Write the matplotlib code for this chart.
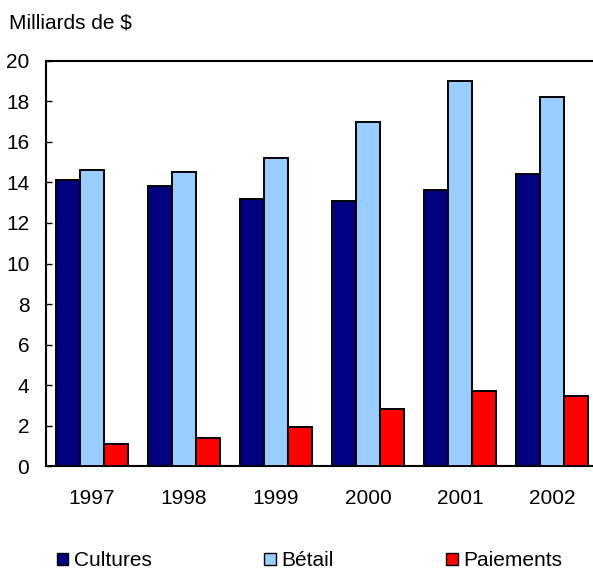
import matplotlib
matplotlib.use("Agg")
import matplotlib.pyplot as plt
import numpy as np
from matplotlib.patches import Patch

years = ["1997", "1998", "1999", "2000", "2001", "2002"]
cultures = [14.1, 13.8, 13.2, 13.1, 13.6, 14.4]
betail = [14.6, 14.5, 15.2, 17.0, 19.0, 18.2]
paiements = [1.1, 1.4, 1.95, 2.85, 3.7, 3.45]
series_names = ["Cultures", "Bétail", "Paiements"]
colors = ["#000080", "#99CCFF", "#FF0000"]
yticks = [0, 2, 4, 6, 8, 10, 12, 14, 16, 18, 20]

plt.rcParams['font.family'] = ['Liberation Sans', 'DejaVu Sans']
FS = 15

W, H = 593, 571
fig = plt.figure(figsize=(W / 100, H / 100), dpi=100)
ax = fig.add_axes([46 / W, (H - 466.3) / H, 552 / W, 405.6 / H])

x = np.arange(len(years))
bw = 0.26
for i, (vals, c) in enumerate(zip([cultures, betail, paiements], colors)):
    ax.bar(x + (i - 1) * bw, vals, width=bw, color=c, edgecolor='black',
           linewidth=1.4, zorder=3)

ax.set_xlim(-0.5, len(years) - 0.5)
ax.set_ylim(0, 20)
ax.set_yticks(yticks)
ax.set_yticklabels([str(t) for t in yticks], fontsize=FS)
ax.set_xticks(x)
ax.set_xticklabels(years, fontsize=FS)
ax.tick_params(axis='x', length=0, pad=16)
ax.tick_params(axis='y', direction='in', length=4.5, width=1, pad=12)
for s in ax.spines.values():
    s.set_linewidth(1.5)

fig.text(9 / W, 1 - 22.5 / H, "Milliards de $", fontsize=FS, ha='left', va='center')

handles = [Patch(facecolor=c, edgecolor='black', linewidth=1.0) for c in colors]
fig.legend(handles, series_names, loc='center left',
           bbox_to_anchor=(57 / W, 1 - 561 / H), ncol=3, frameon=False,
           fontsize=FS, handlelength=0.55, handleheight=0.55,
           handletextpad=0.25, columnspacing=5.42, borderaxespad=0, borderpad=0)

fig.savefig("out.png", dpi=100)
